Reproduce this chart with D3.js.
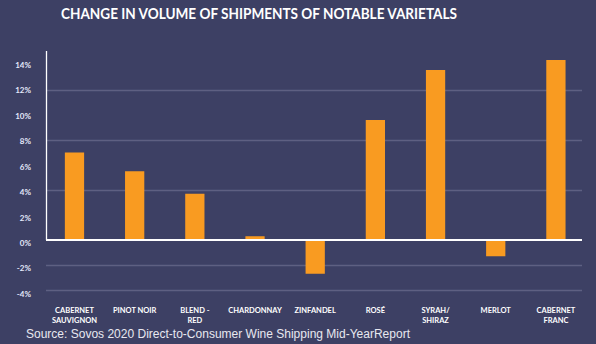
<!DOCTYPE html>
<html>
<head>
<meta charset="utf-8">
<script src="https://cdn.jsdelivr.net/npm/d3@7"></script>
<style>
html,body{margin:0;padding:0;background:#3d4064;}
svg{display:block;}
</style>
</head>
<body>
<script>
const categories = [
  ["CABERNET","SAUVIGNON"],
  ["PINOT NOIR"],
  ["BLEND -","RED"],
  ["CHARDONNAY"],
  ["ZINFANDEL"],
  ["ROSÉ"],
  ["SYRAH/","SHIRAZ"],
  ["MERLOT"],
  ["CABERNET","FRANC"]
];
const values = [7.0, 5.5, 3.7, 0.3, -2.7, 9.6, 13.6, -1.3, 14.4];
const tickValues = [14, 12, 10, 8, 6, 4, 2, 0, -2, -4];
const gridValues = [12, 8, 4, -2, -4];
const title = "CHANGE IN VOLUME OF SHIPMENTS OF NOTABLE VARIETALS";
const source = "Source: Sovos 2020 Direct-to-Consumer Wine Shipping Mid-YearReport";

const W = 596, H = 344;
const svg = d3.select("body").append("svg").attr("width", W).attr("height", H);
svg.append("rect").attr("width", W).attr("height", H).attr("fill", "#3d4064");

const keys = categories.map(c => c.join(" "));
const x = d3.scaleBand().domain(keys).range([44.4, 586]).paddingInner(0.68).paddingOuter(0.34);
const y = d3.scaleLinear().domain([0, 12]).range([240, 90]);
// tick labels sit on a slightly different spacing in the original
const yLab = d3.scaleLinear().domain([0, 14]).range([243, 65]);

// gridlines
svg.append("g").selectAll("line").data(gridValues).join("line")
  .attr("x1", 46).attr("x2", 582)
  .attr("y1", d => Math.round(y(d)) + 0.5).attr("y2", d => Math.round(y(d)) + 0.5)
  .attr("stroke", "#5e6082").attr("stroke-width", 1.3);

// bars
svg.append("g").selectAll("rect").data(values).join("rect")
  .attr("x", (d, i) => x(keys[i]))
  .attr("width", x.bandwidth())
  .attr("y", d => y(Math.max(0, d)))
  .attr("height", d => Math.abs(y(d) - y(0)))
  .attr("fill", "#f99b21");

// axes lines
svg.append("line").attr("x1", 46.5).attr("x2", 46.5).attr("y1", 51).attr("y2", y(0))
  .attr("stroke", "#ffffff").attr("stroke-width", 1.3);
svg.append("line").attr("x1", 46).attr("x2", 582).attr("y1", y(0)).attr("y2", y(0))
  .attr("stroke", "#ffffff").attr("stroke-width", 2);

// y tick labels
svg.append("g").selectAll("text").data(tickValues).join("text")
  .attr("x", 31).attr("y", d => yLab(d) + 3)
  .attr("text-anchor", "end")
  .attr("font-family", "Lato, 'Open Sans', sans-serif")
  .attr("font-weight", "bold").attr("font-size", 8)
  .attr("fill", "#e4e9fb")
  .text(d => d + "%");

// category labels
const cl = svg.append("g").selectAll("text").data(categories).join("text")
  .attr("text-anchor", "middle")
  .attr("font-family", "Lato, 'Open Sans', sans-serif")
  .attr("font-weight", "bold").attr("font-size", 7.5)
  .attr("fill", "#ffffff")
  .attr("x", (d, i) => x(keys[i]) + x.bandwidth() / 2)
  .attr("y", 313);
cl.each(function(d, i) {
  const t = d3.select(this);
  const cx = x(keys[i]) + x.bandwidth() / 2;
  d.forEach((line, j) => {
    t.append("tspan").attr("x", cx).attr("dy", j === 0 ? 0 : 9.5).text(line);
  });
});

// title
svg.append("text").attr("x", 259).attr("y", 19)
  .attr("text-anchor", "middle")
  .attr("font-family", "Lato, 'Open Sans', sans-serif")
  .attr("font-weight", "bold").attr("font-size", 14.5)
  .attr("fill", "#ffffff")
  .attr("textLength", 396).attr("lengthAdjust", "spacingAndGlyphs")
  .text(title);

// source
svg.append("text").attr("x", 26).attr("y", 338)
  .attr("font-family", "'Liberation Sans', Arial, sans-serif")
  .attr("font-size", 12.5)
  .attr("fill", "#e8e8f0")
  .attr("textLength", 384).attr("lengthAdjust", "spacingAndGlyphs")
  .text(source);
</script>
</body>
</html>
